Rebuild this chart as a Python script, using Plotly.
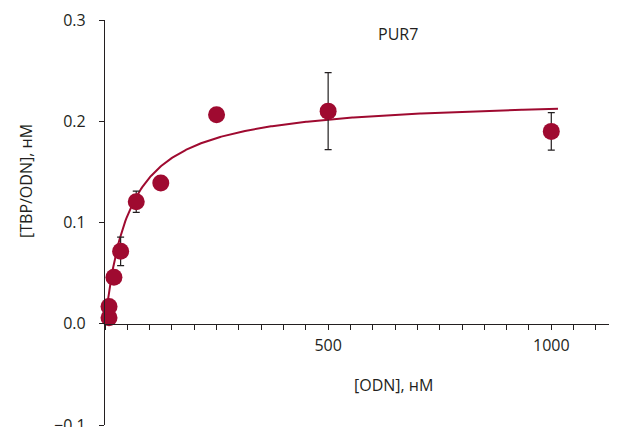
import numpy as np
import plotly.graph_objects as go

# Data
odn = [9, 9, 20, 35, 70, 125, 250, 500, 1000]
tbp = [0.006, 0.017, 0.046, 0.0715, 0.1205, 0.139, 0.2065, 0.210, 0.190]
err = [None, None, None, 0.014, 0.0105, None, None, 0.038, 0.0186]

# Hyperbolic binding fit parameters
bmax = 0.2238
kd = 55.0
fit_x_start, fit_x_end = 5, 1015

x_tick_major = [500, 1000]
y_ticks = [-0.1, 0.0, 0.1, 0.2, 0.3]
y_tick_text = ["\u22120.1", "0.0", "0.1", "0.2", "0.3"]

RED = "#9F0A30"
INK = "#231F20"
FONT = "Open Sans, Noto Sans, sans-serif"

fit_x = np.linspace(fit_x_start, fit_x_end, 400)
fit_y = bmax * fit_x / (kd + fit_x)

fig = go.Figure()
fig.add_trace(go.Scatter(
    x=fit_x, y=fit_y, mode="lines",
    line=dict(color=RED, width=2), hoverinfo="skip", showlegend=False,
    cliponaxis=False,
))
ex = [x for x, e in zip(odn, err) if e is not None]
ey = [y for y, e in zip(tbp, err) if e is not None]
ee = [e for e in err if e is not None]
fig.add_trace(go.Scatter(
    x=ex, y=ey, mode="markers",
    marker=dict(size=1, color="rgba(0,0,0,0)"),
    error_y=dict(type="data", array=ee, visible=True, color=INK, thickness=1.2, width=3.5),
    showlegend=False, cliponaxis=False,
))
fig.add_trace(go.Scatter(
    x=odn, y=tbp, mode="markers",
    marker=dict(size=17, color=RED, line=dict(width=0)),
    showlegend=False, cliponaxis=False,
))

minor_vals = list(range(0, 1150, 50))
tick_text = [str(v) if v in x_tick_major else "" for v in minor_vals]

# page body has an 8px margin; compensate so the plot lands where the reference has it
OFF = 8
W, H = 617 - OFF, 427 - OFF
plot_l, plot_t, plot_r, plot_b = 105 - OFF, 20 - OFF, 1, 2
plot_w, plot_h = W - plot_l - plot_r, H - plot_t - plot_b

def px(xp):
    return (xp - OFF - plot_l) / plot_w

def py(yp):
    return 1 - (yp - OFF - plot_t) / plot_h

fig.update_layout(
    width=W, height=H,
    margin=dict(l=plot_l, r=plot_r, t=plot_t, b=plot_b, autoexpand=False),
    paper_bgcolor="white", plot_bgcolor="white",
    font=dict(family=FONT, size=16, color=INK),
    xaxis=dict(
        range=[0, 1145], showgrid=False, zeroline=False, automargin=False,
        showline=True, linecolor=INK, linewidth=1.2,
        anchor="free", position=0.25,
        tickmode="array", tickvals=minor_vals, ticktext=tick_text,
        ticks="outside", ticklen=5, tickwidth=1, tickcolor=INK,
        tickfont=dict(size=16, color=INK, family=FONT),
        ticklabelstandoff=2, ticklabeloverflow="allow",
    ),
    yaxis=dict(
        range=[-0.1, 0.3], showgrid=False, zeroline=False, automargin=False,
        showline=True, linecolor=INK, linewidth=1.2,
        tickmode="array", tickvals=y_ticks, ticktext=y_tick_text,
        ticks="outside", ticklen=5, tickwidth=1, tickcolor=INK,
        tickfont=dict(size=16, color=INK, family=FONT),
        ticklabelstandoff=10, ticklabeloverflow="allow",
    ),
    annotations=[
        dict(text="PUR7", x=px(398), y=py(34)),
        dict(text="[ODN], нМ", x=px(393), y=py(385)),
        dict(text="[TBP/ODN], нМ", x=px(26), y=py(181), textangle=-90),
    ],
)
fig.update_annotations(xref="paper", yref="paper", showarrow=False,
                       xanchor="center", yanchor="middle",
                       font=dict(size=16, color=INK, family=FONT))

fig.write_html("out.html")
